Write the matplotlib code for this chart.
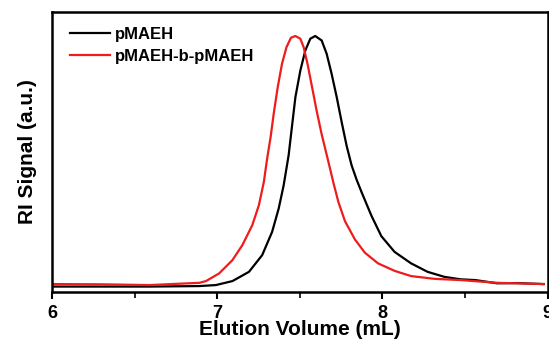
import matplotlib.pyplot as plt

plt.rcParams['font.family'] = ['Liberation Sans', 'DejaVu Sans']
plt.rcParams['font.weight'] = 'bold'

# pMAEH (black)
vol_a = [6.000, 6.300, 6.590, 6.892, 6.992, 7.092, 7.192, 7.272, 7.332, 7.372,
         7.402, 7.432, 7.446, 7.473, 7.503, 7.533, 7.563, 7.593, 7.632, 7.662,
         7.692, 7.723, 7.753, 7.783, 7.813, 7.843, 7.873, 7.933, 7.993, 8.073,
         8.173, 8.273, 8.374, 8.473, 8.562, 8.694, 8.814, 8.976]
sig_a = [-0.004, -0.004, -0.004, -0.002, 0.002, 0.018, 0.055, 0.122, 0.215, 0.309,
         0.402, 0.522, 0.602, 0.755, 0.862, 0.942, 0.989, 1.000, 0.982, 0.929,
         0.849, 0.755, 0.655, 0.560, 0.482, 0.425, 0.375, 0.280, 0.198, 0.135,
         0.089, 0.055, 0.035, 0.025, 0.022, 0.009, 0.010, 0.006]

# pMAEH-b-pMAEH (red)
vol_b = [6.000, 6.300, 6.590, 6.892, 6.932, 7.012, 7.092, 7.152, 7.212, 7.252,
         7.282, 7.302, 7.323, 7.342, 7.366, 7.392, 7.419, 7.446, 7.473, 7.503,
         7.523, 7.547, 7.573, 7.601, 7.632, 7.673, 7.703, 7.733, 7.773, 7.833,
         7.893, 7.973, 8.073, 8.173, 8.314, 8.473, 8.694, 8.976]
sig_b = [0.006, 0.005, 0.002, 0.011, 0.018, 0.049, 0.102, 0.162, 0.242, 0.322,
         0.415, 0.509, 0.595, 0.690, 0.795, 0.889, 0.955, 0.993, 1.000, 0.989,
         0.955, 0.886, 0.798, 0.702, 0.606, 0.495, 0.412, 0.335, 0.258, 0.185,
         0.132, 0.089, 0.059, 0.038, 0.027, 0.022, 0.011, 0.006]

fig = plt.figure(figsize=(5.49, 3.44), dpi=100)
ax = fig.add_axes([0.0947, 0.151, 0.903, 0.814])

ax.plot(vol_a, sig_a, color='black', lw=1.6, label='pMAEH', solid_joinstyle='round')
ax.plot(vol_b, sig_b, color='#ee1c1c', lw=1.6, label='pMAEH-b-pMAEH',
        solid_joinstyle='round')

ax.set_xlim(6, 9)
ax.set_ylim(-0.026, 1.096)
ax.set_xticks([6, 7, 8, 9])
ax.set_xticks([6.5, 7.5, 8.5], minor=True)
ax.set_yticks([])
ax.tick_params(axis='x', which='major', direction='out', length=5, width=1.5,
               labelsize=13, pad=4)
ax.tick_params(axis='x', which='minor', direction='out', length=4, width=1.2)
for s in ax.spines.values():
    s.set_linewidth(1.8)

ax.set_xlabel('Elution Volume (mL)', fontsize=15, fontweight='bold', labelpad=-1)
ax.set_ylabel('RI Signal (a.u.)', fontsize=15, fontweight='bold', labelpad=11)

ax.legend(loc='upper left', frameon=False, fontsize=12, handlelength=2.4,
          handletextpad=0.3, labelspacing=0.4, borderpad=0, borderaxespad=0,
          bbox_to_anchor=(0.036, 0.946))

plt.savefig('out.png', dpi=100)
